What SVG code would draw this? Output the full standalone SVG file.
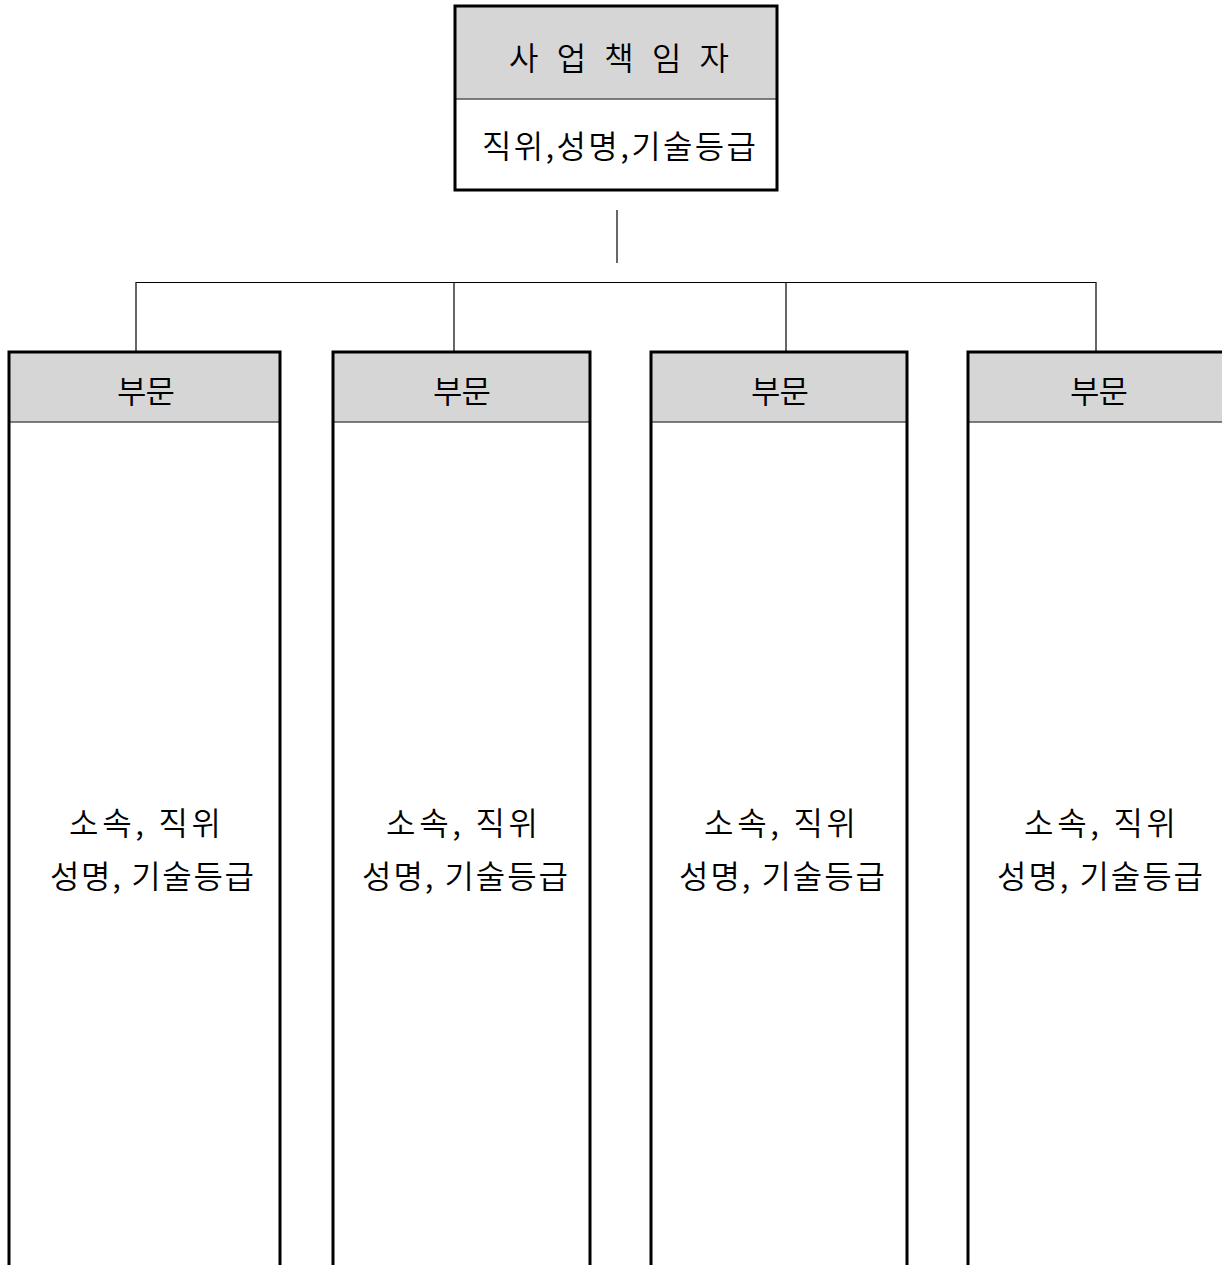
<svg xmlns="http://www.w3.org/2000/svg" width="1222" height="1265" viewBox="0 0 1222 1265">
<style>
.hdr{fill:#d6d6d6;stroke:none}
.box{fill:none;stroke:#000;stroke-width:3}
.div{stroke:#555;stroke-width:1.5}
.conn{stroke:#000;stroke-width:1.2;fill:none}
text{font-family:"Noto Sans CJK KR","Noto Sans",sans-serif;fill:#000;text-anchor:middle;font-weight:350}
.t{font-size:32px}
</style>
<rect width="1222" height="1265" fill="#fff"/>
<g id="connectors">
<line class="conn" x1="617" y1="210" x2="617" y2="263"/>
<polyline class="conn" points="136,352 136,282.5 1096,282.5 1096,352"/>
<line class="conn" x1="454" y1="282.5" x2="454" y2="352"/>
<line class="conn" x1="786" y1="282.5" x2="786" y2="352"/>
</g>
<g id="top">
<rect class="hdr" x="455" y="6" width="322" height="93"/>
<line class="div" x1="455" y1="99" x2="777" y2="99"/>
<rect class="box" x="455" y="6" width="322" height="184"/>
<text class="t" x="619" y="70" textLength="220" lengthAdjust="spacing" xml:space="preserve">사 업 책 임 자</text>
<text class="t" x="619" y="158" textLength="274" lengthAdjust="spacing">직위,성명,기술등급</text>
</g>
<g id="col1">
<rect class="hdr" x="9" y="352" width="271" height="70"/>
<line class="div" x1="9" y1="422" x2="280" y2="422"/>
<path class="box" d="M9,1270 V352 H280 V1270"/>
<text class="t" x="146" y="403" textLength="58" lengthAdjust="spacing">부문</text>
<text class="t" x="145" y="835" textLength="152" lengthAdjust="spacing">소속, 직위</text>
<text class="t" x="152" y="888" textLength="204" lengthAdjust="spacing" xml:space="preserve">성명, 기술등급</text>
</g>
<g id="col2">
<rect class="hdr" x="333" y="352" width="257" height="70"/>
<line class="div" x1="333" y1="422" x2="590" y2="422"/>
<path class="box" d="M333,1270 V352 H590 V1270"/>
<text class="t" x="462" y="403" textLength="58" lengthAdjust="spacing">부문</text>
<text class="t" x="462" y="835" textLength="152" lengthAdjust="spacing">소속, 직위</text>
<text class="t" x="465" y="888" textLength="206" lengthAdjust="spacing" xml:space="preserve">성명, 기술등급</text>
</g>
<g id="col3">
<rect class="hdr" x="651" y="352" width="256" height="70"/>
<line class="div" x1="651" y1="422" x2="907" y2="422"/>
<path class="box" d="M651,1270 V352 H907 V1270"/>
<text class="t" x="780" y="403" textLength="58" lengthAdjust="spacing">부문</text>
<text class="t" x="780" y="835" textLength="152" lengthAdjust="spacing">소속, 직위</text>
<text class="t" x="782" y="888" textLength="206" lengthAdjust="spacing" xml:space="preserve">성명, 기술등급</text>
</g>
<g id="col4">
<rect class="hdr" x="968" y="352" width="260" height="70"/>
<line class="div" x1="968" y1="422" x2="1228" y2="422"/>
<path class="box" d="M968,1270 V352 H1230"/>
<text class="t" x="1099" y="403" textLength="58" lengthAdjust="spacing">부문</text>
<text class="t" x="1100" y="835" textLength="152" lengthAdjust="spacing">소속, 직위</text>
<text class="t" x="1100" y="888" textLength="206" lengthAdjust="spacing" xml:space="preserve">성명, 기술등급</text>
</g>
</svg>
